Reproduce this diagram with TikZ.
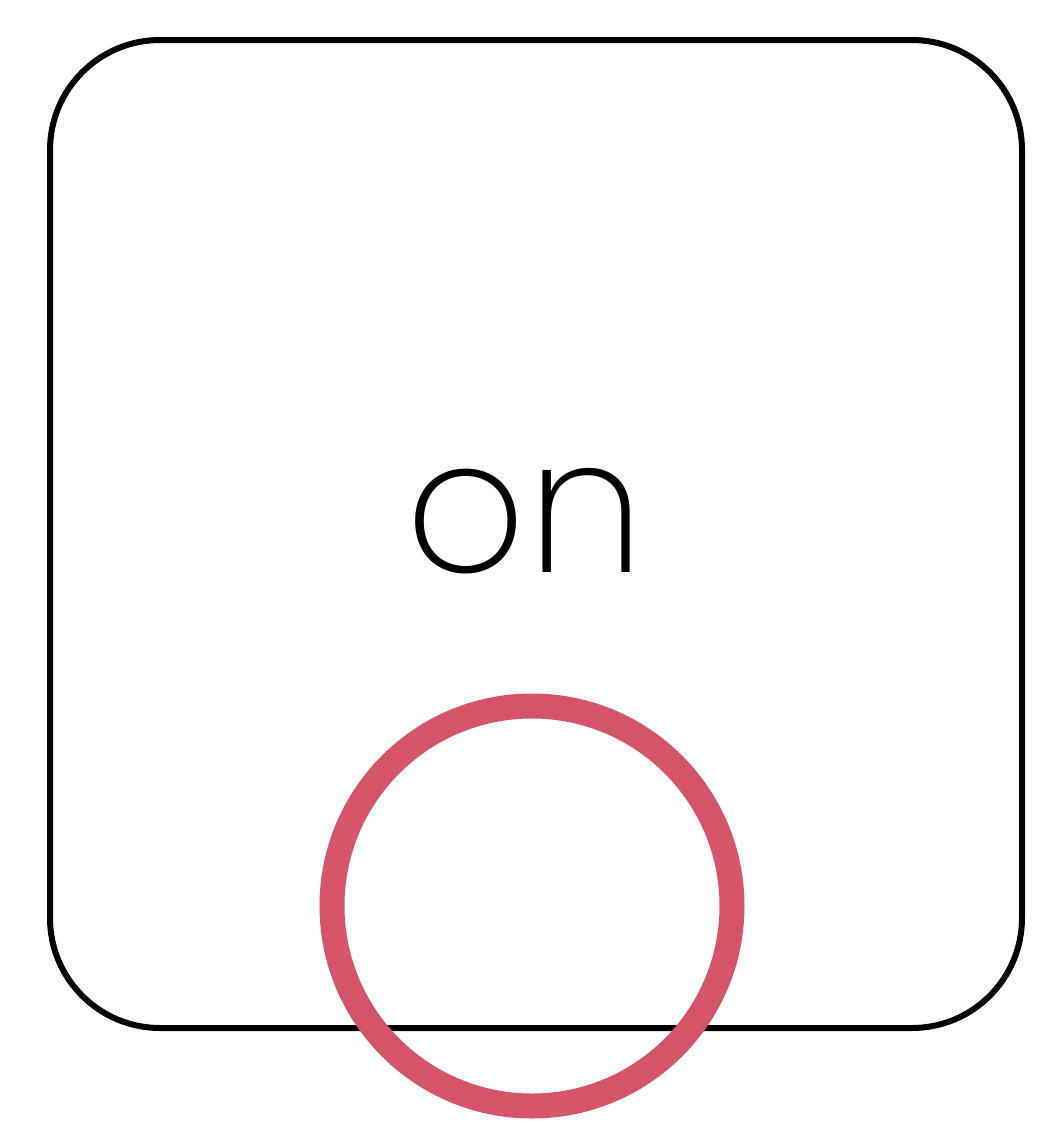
\documentclass[tikz,border=0pt]{standalone}
\usepackage{fontspec}
\setmainfont{Poppins ExtraLight}
\definecolor{ringred}{RGB}{214,84,104}
\begin{document}
\begin{tikzpicture}[x=1pt,y=-1pt,
  statebox/.style={draw=black,line width=6pt,rounded corners=110pt},
  marker/.style={draw=ringred,line width=25pt,circle}]
\useasboundingbox (0,0) rectangle (1046,1125);
\node[statebox,minimum width=972pt,minimum height=988pt,inner sep=0pt] (box) at (536,534) {};
\node[inner sep=0pt,font=\fontsize{188}{200}\selectfont] (label) at (525,521) {on};
\node[marker,minimum size=400pt,inner sep=0pt] (ring) at (532,906) {};
\end{tikzpicture}
\end{document}
